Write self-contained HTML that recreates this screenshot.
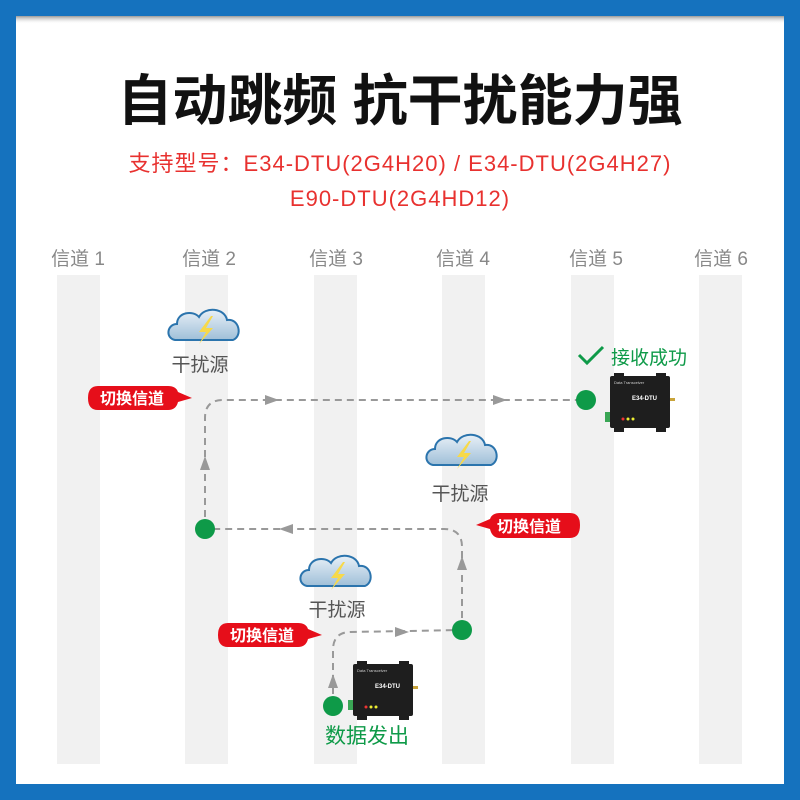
<!DOCTYPE html>
<html><head><meta charset="utf-8"><style>
html,body{margin:0;padding:0;}
body{width:800px;height:800px;overflow:hidden;background:#fff;}
svg{display:block;}
text{font-family:"Liberation Sans","Noto Sans CJK SC",sans-serif;}
</style></head><body>
<svg width="800" height="800" viewBox="0 0 800 800">
<defs>
<linearGradient id="cl" x1="0" y1="0" x2="0" y2="1"><stop offset="0" stop-color="#e8f0f7"/><stop offset="1" stop-color="#9fbfd8"/></linearGradient>
<linearGradient id="sh" x1="0" y1="0" x2="0" y2="1"><stop offset="0" stop-color="#555"/><stop offset="1" stop-color="#fff" stop-opacity="0"/></linearGradient>
<g id="cloud">
<path d="M-30,10 C-40,8 -38,-6 -28,-6 C-28,-18 -12,-20 -6,-13 C0,-24 20,-22 22,-10 C34,-12 38,6 28,10 Z" fill="url(#cl)" stroke="#2b74ad" stroke-width="2"/>
<path d="M6,-14 L-6,2 L1,2 L-6,14 L8,-2 L1,-2 L8,-14 Z" fill="#f7d94a"/>
</g>
<g id="dev">
<rect x="-30" y="-28" width="60" height="52" rx="2" fill="#1e1e1e"/>
<rect x="-26" y="-31" width="10" height="4" fill="#1e1e1e"/><rect x="16" y="-31" width="10" height="4" fill="#1e1e1e"/>
<rect x="-26" y="24" width="10" height="4" fill="#1e1e1e"/><rect x="16" y="24" width="10" height="4" fill="#1e1e1e"/>
<rect x="-35" y="8" width="5" height="10" fill="#3aa655"/>
<rect x="30" y="-6" width="5" height="3" fill="#c9a43a"/>
<circle cx="-17" cy="15" r="1.5" fill="#e33"/><circle cx="-12" cy="15" r="1.5" fill="#ee3"/><circle cx="-7" cy="15" r="1.5" fill="#ee3"/>
<text x="-26" y="-20" font-size="4" fill="#ccc">Data Transceiver</text>
<text x="-8" y="-4" font-size="6" font-weight="bold" fill="#fff">E34-DTU</text>
</g>
</defs>
<rect width="800" height="800" fill="#1572be"/>
<rect x="16" y="16" width="768" height="768" fill="#fff"/>
<rect x="16" y="16" width="768" height="8" fill="url(#sh)" opacity="0.6"/>
<text x="400" y="120" text-anchor="middle" font-size="55" font-weight="bold" fill="#111">自动跳频 抗干扰能力强</text>
<text x="400" y="171" text-anchor="middle" font-size="22" letter-spacing="1" fill="#e8312f">支持型号：E34-DTU(2G4H20) / E34-DTU(2G4H27)</text>
<text x="400" y="206" text-anchor="middle" font-size="22" letter-spacing="1" fill="#e8312f">E90-DTU(2G4HD12)</text>
<g fill="#f1f1f1">
<rect x="57" y="275" width="43" height="489"/><rect x="185" y="275" width="43" height="489"/>
<rect x="314" y="275" width="43" height="489"/><rect x="442" y="275" width="43" height="489"/>
<rect x="571" y="275" width="43" height="489"/><rect x="699" y="275" width="43" height="489"/>
</g>
<g font-size="19" fill="#888" text-anchor="middle">
<text x="78" y="265">信道 1</text><text x="209" y="265">信道 2</text><text x="336" y="265">信道 3</text>
<text x="463" y="265">信道 4</text><text x="596" y="265">信道 5</text><text x="721" y="265">信道 6</text>
</g>
<g fill="none" stroke="#999" stroke-width="2" stroke-dasharray="7,5">
<path d="M333,706 L333,650 Q333,632 351,632 L462,630"/>
<path d="M462,630 L462,547 Q462,529 444,529 L205,529"/>
<path d="M205,529 L205,418 Q205,400 223,400 L586,400"/>
</g>
<g fill="#999">
<path d="M265,395 L279,400 L265,405Z"/><path d="M493,395 L507,400 L493,405Z"/>
<path d="M200,470 L205,456 L210,470Z"/>
<path d="M293,524 L279,529 L293,534Z"/>
<path d="M457,570 L462,556 L467,570Z"/>
<path d="M395,627 L409,632 L395,637Z"/>
<path d="M328,688 L333,674 L338,688Z"/>
</g>
<g fill="#0e9a48">
<circle cx="586" cy="400" r="10"/><circle cx="205" cy="529" r="10"/><circle cx="462" cy="630" r="10"/><circle cx="333" cy="706" r="10"/>
</g>
<use href="#cloud" x="205" y="330"/><use href="#cloud" x="463" y="455"/><use href="#cloud" x="337" y="576"/>
<g font-size="19" fill="#555" text-anchor="middle">
<text x="200" y="371">干扰源</text><text x="460" y="500">干扰源</text><text x="337" y="616">干扰源</text>
</g>
<g font-size="16" font-weight="bold" fill="#fff">
<path d="M98,386 L168,386 Q176,386 178,392 L192,398 L178,402 Q176,410 168,410 L98,410 Q88,410 88,398 Q88,386 98,386Z" fill="#e60e1a"/>
<text x="100" y="404">切换信道</text>
<path d="M570,513 L500,513 Q492,513 490,519 L476,525 L490,529 Q492,538 500,538 L570,538 Q580,538 580,525 Q580,513 570,513Z" fill="#e60e1a"/>
<text x="497" y="532">切换信道</text>
<path d="M228,623 L298,623 Q306,623 308,629 L322,635 L308,639 Q306,647 298,647 L228,647 Q218,647 218,635 Q218,623 228,623Z" fill="#e60e1a"/>
<text x="230" y="641">切换信道</text>
</g>
<path d="M579,355 L587,363 L603,347" fill="none" stroke="#0e9a48" stroke-width="3"/>
<text x="611" y="364" font-size="19" fill="#0e9a48">接收成功</text>
<text x="325" y="743" font-size="21" fill="#0e9a48">数据发出</text>
<use href="#dev" x="640" y="404"/>
<use href="#dev" x="383" y="692"/>
</svg>
</body></html>
